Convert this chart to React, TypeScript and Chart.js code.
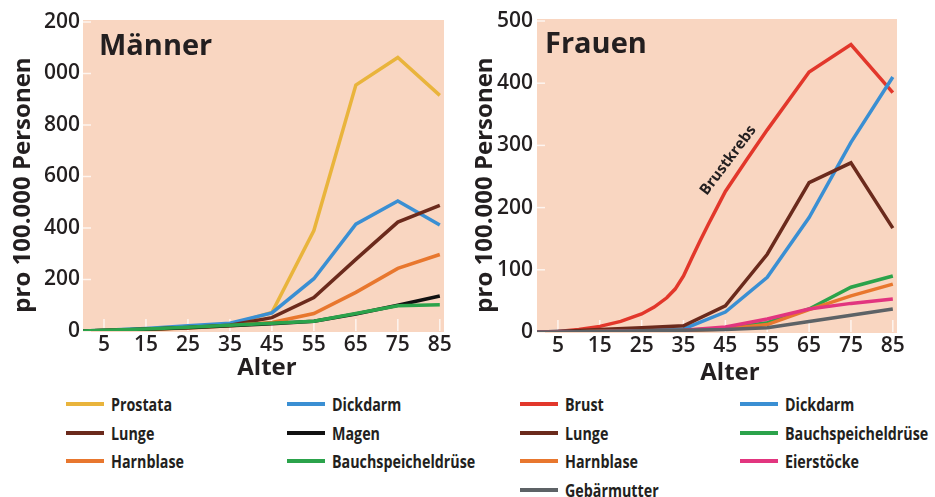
import React, { useEffect, useRef } from "react";
import { Chart, registerables } from "chart.js";

Chart.register(...registerables);

// ---------- DATA ----------
const ages = [0, 5, 15, 25, 35, 45, 55, 65, 75, 85];
const brustAges = [0, 5, 10, 15, 20, 25, 28, 31, 33, 35, 37, 39, 41, 43, 45, 50, 55, 65, 75, 85];
const xTickValues = [5, 15, 25, 35, 45, 55, 65, 75, 85];

const yTicksMaenner = [0, 200, 400, 600, 800, 1000, 1200];
const yTickLabelsMaenner = ["0", "200", "400", "600", "800", "000", "200"];
const yTicksFrauen = [0, 100, 200, 300, 400, 500];
const yTickLabelsFrauen = ["0", "100", "200", "300", "400", "500"];

// Männer
const mProstata = [0, 2, 6, 14, 25, 72, 390, 955, 1062, 915];
const mDickdarm = [0, 3, 10, 20, 30, 70, 203, 415, 505, 412];
const mLunge = [0, 2, 7, 14, 22, 52, 130, 278, 423, 488];
const mMagen = [0, 2, 7, 13, 20, 28, 38, 66, 100, 136];
const mHarnblase = [0, 2, 6, 12, 20, 33, 68, 150, 243, 297];
const mBauchspeicheldruese = [0, 3, 8, 15, 22, 30, 38, 68, 98, 102];

// Frauen
const fBrust = [0, 1, 4, 9, 17, 29, 40, 55, 69, 90, 119, 147, 174, 200, 226, 276, 325, 418, 462, 385];
const fDickdarm = [0, 1, 2, 3, 5, 32, 88, 184, 305, 410];
const fLunge = [0, 1, 4, 7, 10, 42, 125, 240, 272, 167];
const fBauchspeicheldruese = [0, 0, 1, 2, 3, 6, 15, 37, 72, 90];
const fHarnblase = [0, 0, 1, 1, 2, 5, 12, 36, 58, 77];
const fEierstoecke = [0, 0, 1, 2, 3, 8, 21, 37, 46, 53];
const fGebaermutter = [0, 0, 1, 2, 3, 4, 7, 17, 27, 37];

// ---------- STYLES ----------
const C = {
  prostata: "#E9B43C",
  dickdarm: "#3A8FD3",
  lunge: "#6B2A1C",
  magen: "#111111",
  harnblase: "#E8772E",
  bauch: "#2BA34B",
  brust: "#E2372B",
  eier: "#E2357F",
  gebaer: "#5D6266",
};
const PLOT_BG = "#F9D6C1";
const TEXT = "#231F20";
const FONT = "'Open Sans', 'Noto Sans', sans-serif";

const toXY = (xs: number[], ys: number[]) => ys.map((y, i) => ({ x: xs[i], y }));

const line = (label: string, xs: number[], ys: number[], color: string, order: number) => ({
  label,
  data: toXY(xs, ys),
  borderColor: color,
  backgroundColor: color,
  borderWidth: 3.5,
  pointRadius: 0,
  tension: 0,
  fill: false,
  order,
  borderJoinStyle: "miter" as const,
});

type TextItem = {
  text: string;
  x: number;
  y: number;
  font: string;
  rot?: number;
  align?: CanvasTextAlign;
  data?: boolean;
};

const bgPlugin = {
  id: "plotBg",
  beforeDatasetsDraw(chart: any) {
    const { ctx, chartArea: a, scales } = chart;
    ctx.save();
    ctx.fillStyle = PLOT_BG;
    ctx.fillRect(a.left, a.top - 2, a.right - a.left, a.bottom - a.top + 3);
    ctx.strokeStyle = "rgba(255,255,255,0.75)";
    ctx.lineWidth = 1.5;
    scales.x.ticks.forEach((t: any) => {
      const px = scales.x.getPixelForValue(t.value);
      ctx.beginPath();
      ctx.moveTo(px, a.bottom);
      ctx.lineTo(px, a.bottom - 12);
      ctx.stroke();
    });
    scales.y.ticks.forEach((t: any) => {
      const py = scales.y.getPixelForValue(t.value);
      ctx.beginPath();
      ctx.moveTo(a.left, py);
      ctx.lineTo(a.left + 8, py);
      ctx.stroke();
    });
    ctx.restore();
  },
};

const textPlugin = {
  id: "texts",
  afterDraw(chart: any) {
    const items: TextItem[] = chart.options.plugins.texts?.items || [];
    const { ctx, scales } = chart;
    items.forEach((it) => {
      ctx.save();
      let px = it.x;
      let py = it.y;
      if (it.data) {
        px = scales.x.getPixelForValue(it.x);
        py = scales.y.getPixelForValue(it.y);
      }
      ctx.translate(px, py);
      if (it.rot) ctx.rotate((it.rot * Math.PI) / 180);
      ctx.font = it.font;
      ctx.fillStyle = TEXT;
      ctx.textAlign = it.align || "left";
      ctx.textBaseline = it.data ? "middle" : "alphabetic";
      ctx.fillText(it.text, 0, 0);
      ctx.restore();
    });
  },
};

function makeConfig(p: {
  datasets: any[];
  yMax: number;
  yTicks: number[];
  yLabels: string[];
  leftW: number;
  bottomH: number;
  padTop: number;
  padRight: number;
  yPad: number;
  texts: TextItem[];
}) {
  const tickFont = { family: FONT, size: 21, weight: 600 as any };
  return {
    type: "line" as const,
    data: { datasets: p.datasets },
    plugins: [bgPlugin, textPlugin],
    options: {
      animation: false as const,
      responsive: false,
      devicePixelRatio: 1,
      layout: { padding: { top: p.padTop, right: p.padRight, left: 0, bottom: 0 } },
      plugins: {
        legend: { display: false },
        tooltip: { enabled: false },
        title: { display: false },
        texts: { items: p.texts },
      } as any,
      scales: {
        x: {
          type: "linear" as const,
          min: 0,
          max: 86,
          afterBuildTicks: (s: any) => {
            s.ticks = xTickValues.map((v) => ({ value: v }));
          },
          afterFit: (s: any) => {
            s.height = p.bottomH;
          },
          grid: { display: false, drawTicks: false },
          border: { display: false },
          ticks: {
            padding: 1,
            autoSkip: false,
            maxRotation: 0,
            color: TEXT,
            font: tickFont,
            callback: (v: any) => String(v),
          },
        },
        y: {
          type: "linear" as const,
          min: 0,
          max: p.yMax,
          afterBuildTicks: (s: any) => {
            s.ticks = p.yTicks.map((v) => ({ value: v }));
          },
          afterFit: (s: any) => {
            s.width = p.leftW;
          },
          grid: { display: false, drawTicks: false },
          border: { display: false },
          ticks: {
            padding: p.yPad,
            autoSkip: false,
            color: TEXT,
            font: tickFont,
            callback: (_v: any, i: number) => p.yLabels[i],
          },
        },
      },
    },
  };
}

const maennerDatasets = [
  line("Bauchspeicheldrüse", ages, mBauchspeicheldruese, C.bauch, 1),
  line("Magen", ages, mMagen, C.magen, 2),
  line("Harnblase", ages, mHarnblase, C.harnblase, 3),
  line("Lunge", ages, mLunge, C.lunge, 4),
  line("Dickdarm", ages, mDickdarm, C.dickdarm, 5),
  line("Prostata", ages, mProstata, C.prostata, 6),
];

const frauenDatasets = [
  line("Gebärmutter", ages, fGebaermutter, C.gebaer, 1),
  line("Eierstöcke", ages, fEierstoecke, C.eier, 2),
  line("Harnblase", ages, fHarnblase, C.harnblase, 3),
  line("Bauchspeicheldrüse", ages, fBauchspeicheldruese, C.bauch, 4),
  line("Lunge", ages, fLunge, C.lunge, 5),
  line("Dickdarm", ages, fDickdarm, C.dickdarm, 6),
  line("Brust", brustAges, fBrust, C.brust, 7),
];

const legendMaenner = [
  { label: "Prostata", color: C.prostata, col: 0, row: 0 },
  { label: "Lunge", color: C.lunge, col: 0, row: 1 },
  { label: "Harnblase", color: C.harnblase, col: 0, row: 2 },
  { label: "Dickdarm", color: C.dickdarm, col: 1, row: 0 },
  { label: "Magen", color: C.magen, col: 1, row: 1 },
  { label: "Bauchspeicheldrüse", color: C.bauch, col: 1, row: 2 },
];
const legendFrauen = [
  { label: "Brust", color: C.brust, col: 2, row: 0 },
  { label: "Lunge", color: C.lunge, col: 2, row: 1 },
  { label: "Harnblase", color: C.harnblase, col: 2, row: 2 },
  { label: "Gebärmutter", color: C.gebaer, col: 2, row: 3 },
  { label: "Dickdarm", color: C.dickdarm, col: 3, row: 0 },
  { label: "Bauchspeicheldrüse", color: C.bauch, col: 3, row: 1 },
  { label: "Eierstöcke", color: C.eier, col: 3, row: 2 },
];

// legend layout (page pixels)
const LEG_COL_X = [66, 287, 520, 740];
const LEG_ROW_Y = [404, 433, 461, 490];

function ChartCanvas(props: { config: any; left: number; width: number; height: number }) {
  const ref = useRef<HTMLCanvasElement | null>(null);
  useEffect(() => {
    if (!ref.current) return;
    const chart = new Chart(ref.current, props.config);
    return () => chart.destroy();
  }, []);
  return (
    <canvas
      ref={ref}
      width={props.width}
      height={props.height}
      style={{ position: "absolute", left: props.left, top: 0, width: props.width, height: props.height }}
    />
  );
}

export default function App() {
  const boldTitle = `700 29px ${FONT}`;
  const axisTitle = `700 24px ${FONT}`;
  const cfgM = makeConfig({
    datasets: maennerDatasets,
    yMax: 1200,
    yTicks: yTicksMaenner,
    yLabels: yTickLabelsMaenner,
    leftW: 83,
    bottomH: 390 - 331,
    padTop: 22,
    padRight: 470 - 444,
    yPad: 3,
    texts: [
      { text: "Männer", x: 99, y: 55, font: boldTitle },
      { text: "Alter", x: 267, y: 375, font: axisTitle, align: "center" },
      { text: "pro 100.000 Personen", x: 30, y: 185, font: axisTitle, rot: -90, align: "center" },
    ],
  });
  const cfgF = makeConfig({
    datasets: frauenDatasets,
    yMax: 500,
    yTicks: yTicksFrauen,
    yLabels: yTickLabelsFrauen,
    leftW: 67,
    bottomH: 390 - 332,
    padTop: 21,
    padRight: 465 - 427,
    yPad: 4,
    texts: [
      { text: "Frauen", x: 75, y: 53, font: boldTitle },
      { text: "Alter", x: 260, y: 380, font: axisTitle, align: "center" },
      { text: "pro 100.000 Personen", x: 22, y: 185, font: axisTitle, rot: -90, align: "center" },
      { text: "Brustkrebs", x: 45.7, y: 276, font: `700 15px ${FONT}`, rot: -53, align: "center", data: true },
    ],
  });

  const legendItems = [...legendMaenner, ...legendFrauen];

  return (
    <div
      style={{
        position: "fixed",
        left: 0,
        top: 0,
        width: 935,
        height: 497,
        background: "#ffffff",
        overflow: "hidden",
      }}
    >
      <ChartCanvas config={cfgM} left={0} width={470} height={390} />
      <ChartCanvas config={cfgF} left={470} width={465} height={390} />
      {legendItems.map((it, i) => (
        <div
          key={i}
          style={{
            position: "absolute",
            left: LEG_COL_X[it.col],
            top: LEG_ROW_Y[it.row] - 12,
            height: 24,
            display: "flex",
            alignItems: "center",
            whiteSpace: "nowrap",
          }}
        >
          <div style={{ width: 38, height: 4, background: it.color, marginRight: 7, flex: "none" }} />
          <span
            style={{
              display: "inline-block",
              fontFamily: FONT,
              fontWeight: 700,
              fontSize: 17,
              color: TEXT,
              lineHeight: "24px",
              paddingTop: 2,
              transform: "scaleX(0.84)",
              transformOrigin: "left center",
            }}
          >
            {it.label}
          </span>
        </div>
      ))}
    </div>
  );
}
